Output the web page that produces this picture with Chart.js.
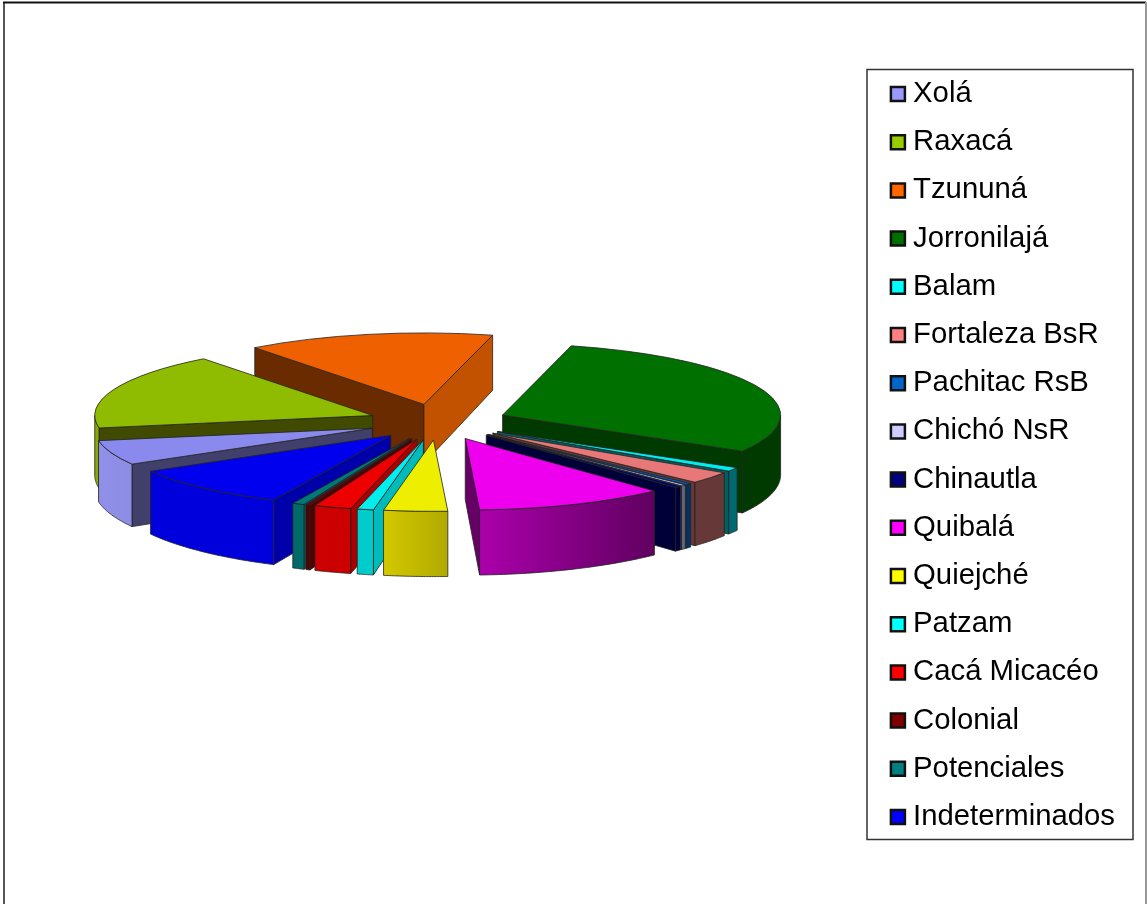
<!DOCTYPE html>
<html>
<head>
<meta charset="utf-8">
<title>Pie</title>
<script src="https://cdn.jsdelivr.net/npm/chart.js@4/dist/chart.umd.min.js"></script>
<style>
    html, body { margin: 0; padding: 0; background: #fff; }
    canvas { display: block; }
</style>
</head>
<body>
<canvas id="pieChart" width="1147" height="904"></canvas>
<script>
// Data (percent of the whole)
const categories = ['Xolá', 'Raxacá', 'Tzununá', 'Jorronilajá', 'Balam', 'Fortaleza BsR', 'Pachitac RsB', 'Chichó NsR',
    'Chinautla', 'Quibalá', 'Quiejché', 'Patzam', 'Cacá Micacéo', 'Colonial', 'Potenciales', 'Indeterminados'];
const shares = [5.6, 17.4, 14.4, 29.5, 0.9, 2.7, 0.35, 0.3, 0.4, 11.1, 3.7, 0.95, 2.15, 0.25, 0.7, 9.7];

// Colours: legend swatch, top face, outer wall (left to right), cut faces (start edge, end edge)
const swatchColors = ['#9999ff', '#99cc00', '#ff6600', '#006f00', '#00ffff', '#ff8080', '#0066cc', '#ccccff',
    '#000080', '#ff00ff', '#ffff00', '#00ffff', '#ff0000', '#800000', '#008080', '#0000ff'];
const topColors = ['#8a8aee', '#8fbc00', '#ee6000', '#007000', '#00eeee', '#e87878', '#0060c0', '#c8c8f0',
    '#000070', '#ee00ee', '#eeee00', '#00eeee', '#ee0000', '#700000', '#007878', '#0000ee'];
const wallColors = [['#9090e8', '#8c8ce4'], ['#8aa800', '#8aa800'], ['#c25200', '#c25200'], ['#003a00', '#003a00'],
    ['#006a70', '#006a70'], ['#663838', '#663838'], ['#003366', '#003366'], ['#666680', '#666680'],
    ['#000038', '#000038'], ['#ab00ab', '#600060'], ['#d4c800', '#b0aa00'], ['#00cccc', '#00cccc'],
    ['#cc0000', '#cc0000'], ['#500000', '#500000'], ['#006a6a', '#006a6a'], ['#0000dd', '#0000dd']];
const cutColors = [['#40406a', '#40406a'], ['#404a00', '#404a00'], ['#6b2b00', '#c25200'], ['#003a00', '#003a00'],
    ['#005f60', '#005f60'], ['#aa5050', '#663838'], ['#003366', '#003366'], ['#666680', '#666680'],
    ['#000038', '#000038'], ['#660066', '#660066'], ['#b0aa00', '#b0aa00'], ['#00bbbb', '#00bbbb'],
    ['#aa0000', '#aa0000'], ['#500000', '#500000'], ['#006a6a', '#006a6a'], ['#0000aa', '#0000aa']];

// 3D look
const pieCenterX = 438;
const pieCenterY = 422;
const squash = 0.257;
const explode = 70;

// Wall height grows towards the viewer
function dropped(point) {
    return [point[0], point[1] + 55 + (point[1] - 333) * 0.057];
}

// One radial face of a slice, from its apex to a point on the rim
function cutFace(ctx, slice, point, color) {
    const apexLow = dropped([slice.x, slice.y]);
    const pointLow = dropped(point);
    ctx.beginPath();
    ctx.moveTo(slice.x, slice.y);
    ctx.lineTo(point[0], point[1]);
    ctx.lineTo(pointLow[0], pointLow[1]);
    ctx.lineTo(apexLow[0], apexLow[1]);
    ctx.closePath();
    ctx.fillStyle = color;
    ctx.fill();
    ctx.stroke();
}

// Draws the arcs of the pie as tilted, extruded and exploded slices
const pie3dPlugin = {
    id: 'pie3d',
    beforeDatasetsDraw(chart) {
        const ctx = chart.ctx;
        const arcs = chart.getDatasetMeta(0).data.map((arc, index) => {
            const mid = (arc.startAngle + arc.endAngle) / 2;
            return {
                arc, index,
                start: arc.startAngle,
                end: arc.endAngle,
                r: arc.outerRadius,
                x: pieCenterX + Math.cos(mid) * explode,
                y: pieCenterY + Math.sin(mid) * explode * squash,
                order: Math.sin(mid)
            };
        });
        // back slices first
        arcs.sort((a, b) => a.order - b.order);
        ctx.save();
        ctx.lineWidth = 0.8;
        ctx.strokeStyle = '#222';
        ctx.lineJoin = 'round';
        arcs.forEach(s => {
            const rim = angle => [s.x + Math.cos(angle) * s.r, s.y + Math.sin(angle) * s.r * squash];

            // cut faces that look towards the viewer
            if (Math.sin(s.start - Math.PI / 2) > 0) cutFace(ctx, s, rim(s.start), cutColors[s.index][0]);
            if (Math.sin(s.end + Math.PI / 2) > 0) cutFace(ctx, s, rim(s.end), cutColors[s.index][1]);

            // outer wall, only the part in front
            for (let k = -2; k <= 2; k++) {
                const from = Math.max(s.start, k * 2 * Math.PI);
                const to = Math.min(s.end, k * 2 * Math.PI + Math.PI);
                if (to <= from) continue;
                const left = Math.min(rim(from)[0], rim(to)[0]);
                const right = Math.max(rim(from)[0], rim(to)[0]);
                const fill = ctx.createLinearGradient(left, 0, right, 0);
                fill.addColorStop(0, wallColors[s.index][0]);
                fill.addColorStop(1, wallColors[s.index][1]);
                ctx.beginPath();
                ctx.ellipse(s.x, s.y, s.r, s.r * squash, 0, from, to);
                for (let step = 40; step >= 0; step--) {
                    const low = dropped(rim(from + (to - from) * step / 40));
                    ctx.lineTo(low[0], low[1]);
                }
                ctx.closePath();
                ctx.fillStyle = fill;
                ctx.fill();
                ctx.stroke();
            }

            // top face comes from the library's own arc element
            ctx.save();
            ctx.translate(s.x, s.y);
            ctx.scale(1, squash);
            ctx.translate(-s.arc.x, -s.arc.y);
            s.arc.draw(ctx);
            ctx.restore();
            ctx.beginPath();
            ctx.moveTo(s.x, s.y);
            ctx.ellipse(s.x, s.y, s.r, s.r * squash, 0, s.start, s.end);
            ctx.closePath();
            ctx.stroke();
        });
        ctx.restore();
        return false;
    },
    afterDraw(chart) {
        const ctx = chart.ctx;
        ctx.save();
        // legend frame
        ctx.strokeStyle = '#333';
        ctx.lineWidth = 1.5;
        ctx.strokeRect(867, 69.5, 266, 770);
        // outer picture frame
        ctx.lineWidth = 2;
        ctx.beginPath();
        ctx.moveTo(4, 904);
        ctx.lineTo(4, 2);
        ctx.strokeStyle = '#555';
        ctx.stroke();
        ctx.beginPath();
        ctx.moveTo(3, 2.5);
        ctx.lineTo(1146, 2.5);
        ctx.strokeStyle = '#111';
        ctx.stroke();
        ctx.beginPath();
        ctx.moveTo(1146, 2);
        ctx.lineTo(1146, 904);
        ctx.strokeStyle = '#999';
        ctx.stroke();
        ctx.restore();
    }
};

new Chart(document.getElementById('pieChart'), {
    type: 'pie',
    data: {
        labels: categories,
        datasets: [{
            data: shares,
            backgroundColor: topColors,
            borderWidth: 0
        }]
    },
    options: {
        responsive: false,
        animation: false,
        events: [],
        rotation: -120.2,
        radius: 278,
        layout: { padding: { right: 22, top: 7 } },
        plugins: {
            tooltip: { enabled: false },
            legend: {
                position: 'right',
                labels: {
                    color: '#000',
                    font: { family: '"Liberation Sans", Arial, sans-serif', size: 29.3 },
                    usePointStyle: true,
                    pointStyle: 'rect',
                    boxWidth: 1,
                    boxHeight: 14,
                    padding: 18.9,
                    generateLabels(chart) {
                        const items = Chart.overrides.pie.plugins.legend.labels.generateLabels(chart);
                        items.forEach((item, i) => {
                            item.fillStyle = swatchColors[i];
                            item.strokeStyle = '#111';
                            item.lineWidth = 2.5;
                        });
                        return items;
                    }
                }
            }
        }
    },
    plugins: [pie3dPlugin]
});
</script>
</body>
</html>
